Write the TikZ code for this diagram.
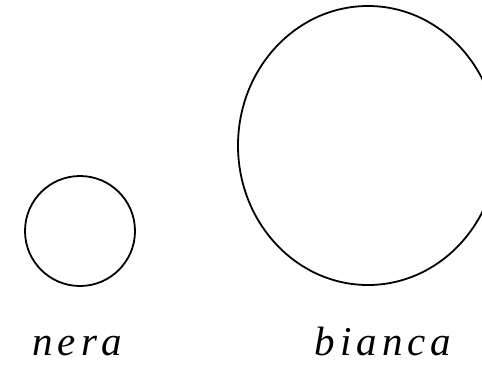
\documentclass[tikz,border=0pt]{standalone}
\usepackage{fontspec}
\usepackage{tikz}
\usetikzlibrary{shapes.geometric, positioning}
\newfontfamily\labelfont[LetterSpace=12]{Liberation Serif}
\tikzset{
  ring/.style={draw=black, line width=1.8pt, inner sep=0pt},
  lab/.style={font=\labelfont\itshape\fontsize{41}{45}\selectfont, anchor=base, inner sep=0pt}
}
\begin{document}
\begin{tikzpicture}[x=1pt, y=-1pt]
  \useasboundingbox (0,0) rectangle (482,372);
  % Circles
  \node[ring, circle, minimum size=110pt] (nerac) at (80,231) {};
  \node[ring, ellipse, minimum width=260pt, minimum height=279pt] (biancac) at (368,145.5) {};

  % Labels
  \node[lab] (neral) at (77.5,355) {nera};
  \node[lab] (biancal) at (383,355) {bianca};
\end{tikzpicture}
\end{document}
